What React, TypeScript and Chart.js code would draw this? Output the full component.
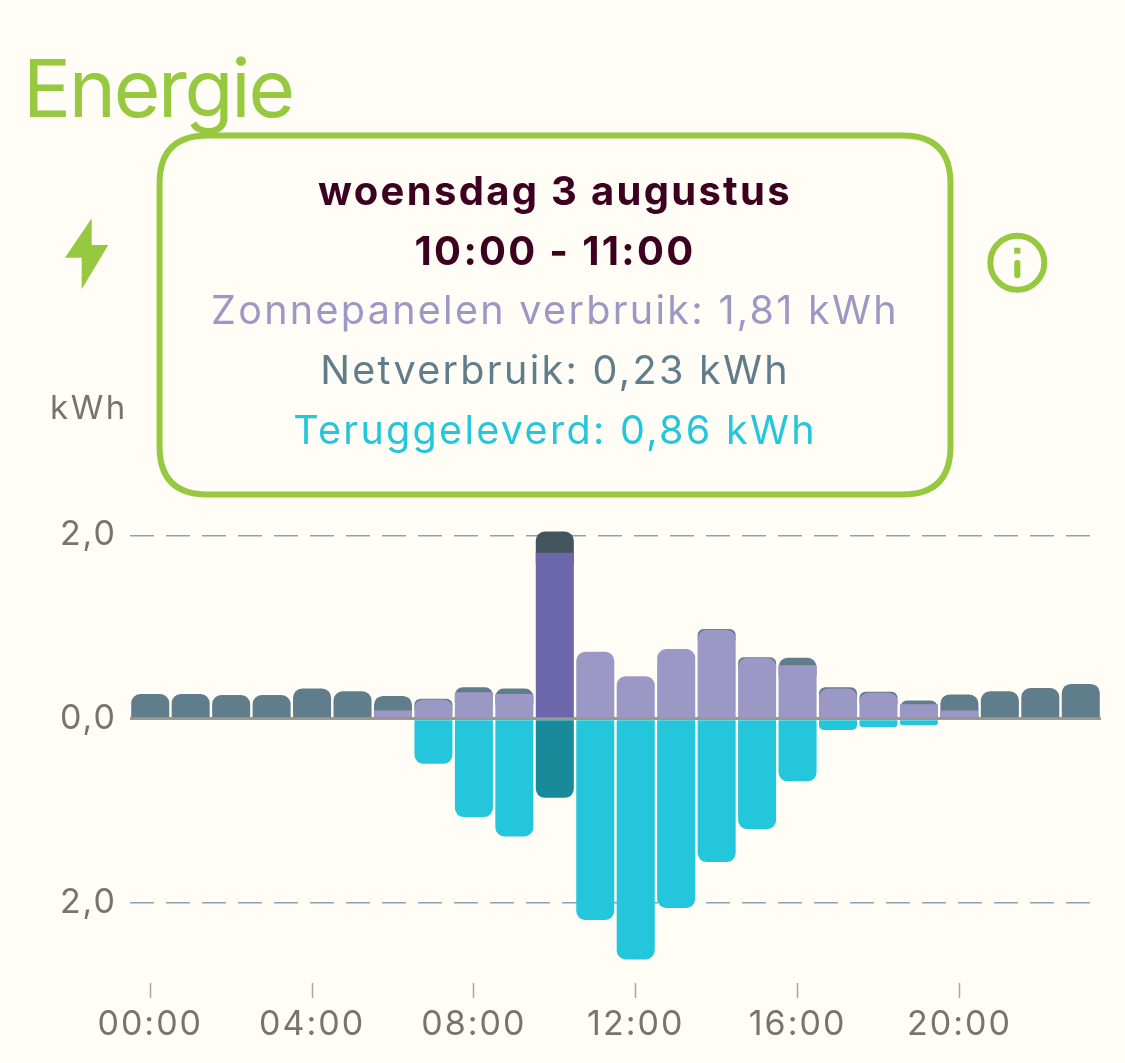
import React, { useEffect, useRef } from "react";
import { Chart, registerables, Tooltip } from "chart.js";

Chart.register(...registerables);

const hours = ["00:00","01:00","02:00","03:00","04:00","05:00","06:00","07:00","08:00","09:00","10:00","11:00","12:00","13:00","14:00","15:00","16:00","17:00","18:00","19:00","20:00","21:00","22:00","23:00"];
const zonnepanelen = [0,0,0,0,0,0,0.09,0.21,0.29,0.27,1.81,0.73,0.465,0.76,0.97,0.665,0.585,0.33,0.285,0.16,0.09,0,0,0];
const netverbruik = [0.27,0.27,0.26,0.26,0.33,0.30,0.16,0.01,0.055,0.06,0.23,0,0,0,0.01,0.005,0.08,0.015,0.01,0.04,0.175,0.30,0.335,0.38];
const teruggeleverd = [0,0,0,0,0,0,0,-0.49,-1.07,-1.28,-0.86,-2.19,-2.62,-2.06,-1.56,-1.20,-0.68,-0.12,-0.09,-0.07,0,0,0,0];
const yTicks = [-2, 0, 2];
const activeHour = 10;
const tooltipTitle = ["woensdag 3 augustus", "10:00 - 11:00"];

const BG = "#FFFDF6";
const GREEN = "#96C93F";
const GREY = "#76746E";
const FONT = "Inter, 'Noto Sans', sans-serif";
const PURPLE = "#9C98C6";
const PURPLE_DARK = "#6C66AB";
const NET = "#607D8B";
const NET_DARK = "#42545C";
const CYAN = "#24C6DC";
const CYAN_DARK = "#188A99";
const MAROON = "#3D0020";

(Tooltip.positioners as any).fixedBox = () => ({ x: 555, y: 135.5, xAlign: "center", yAlign: "top" });

const spacingPlugin = {
  id: "letterSpacing",
  beforeUpdate(chart: any) { chart.ctx.letterSpacing = "2.3px"; },
  beforeDraw(chart: any) { chart.ctx.letterSpacing = "2px"; },
  afterDatasetsDraw(chart: any) { chart.ctx.letterSpacing = "2.3px"; },
};

const pick = (normal: string, dark: string) => hours.map((_, i) => (i === activeHour ? dark : normal));
const R = 9;
// Net consumption sits on the solar part; it starts a little under the solar bar's top so that
// the solar bar's rounded corners show the net colour behind them.
const netBars = netverbruik.map((n, i) =>
  n > 0 ? [Math.max(0, zonnepanelen[i] - 0.12), zonnepanelen[i] + n] : null
);

export default function App() {
  const ref = useRef<HTMLCanvasElement>(null);
  useEffect(() => {
    document.body.style.margin = "0";
    document.body.style.background = BG;
    const chart = new Chart(ref.current!, {
      type: "bar",
      plugins: [spacingPlugin],
      data: {
        labels: hours,
        datasets: [
          {
            label: "Zonnepanelen verbruik",
            data: zonnepanelen,
            order: 1,
            backgroundColor: pick(PURPLE, PURPLE_DARK),
            borderSkipped: false,
            borderRadius: (c: any) => {
              const round = netverbruik[c.dataIndex] < 0.03 ? R : 0;
              return { topLeft: round, topRight: round, bottomLeft: 0, bottomRight: 0 };
            },
          },
          {
            label: "Netverbruik",
            data: netBars,
            order: 2,
            backgroundColor: pick(NET, NET_DARK),
            borderSkipped: false,
            borderRadius: { topLeft: R, topRight: R, bottomLeft: 0, bottomRight: 0 },
          },
          {
            label: "Teruggeleverd",
            data: teruggeleverd,
            order: 3,
            backgroundColor: pick(CYAN, CYAN_DARK),
            borderSkipped: false,
            borderRadius: { topLeft: 0, topRight: 0, bottomLeft: R, bottomRight: R },
          },
        ],
      },
      options: {
        animation: false,
        responsive: false,
        events: [],
        layout: { padding: { top: 516.9, right: 24, left: 0, bottom: 0 } },
        datasets: { bar: { barPercentage: 0.94, categoryPercentage: 1, grouped: false } },
        scales: {
          x: {
            afterBuildTicks: (s: any) => { s.ticks = s.ticks.filter((t: any) => t.value % 4 === 0); },
            afterFit: (s: any) => { s.height = 80; },
            border: { display: false },
            grid: { drawOnChartArea: false, offset: false, tickLength: 15, tickColor: "#A8A7A2", tickWidth: 1.5 },
            ticks: { autoSkip: false, maxRotation: 0, color: GREY, padding: 6, font: { family: FONT, size: 34, weight: 400 } },
          },
          y: {
            min: -2.877,
            max: 2.2,
            afterBuildTicks: (s: any) => { s.ticks = yTicks.map((value) => ({ value })); },
            afterFit: (s: any) => { s.width = 130; },
            border: { display: false, dash: (c: any) => (c.tick && c.tick.value === 0 ? [] : [24, 12]) },
            grid: {
              drawTicks: false,
              color: (c: any) => (c.tick.value === 0 ? "#9A9893" : "#8CA3AE"),
              lineWidth: (c: any) => (c.tick.value === 0 ? 3 : 1.5),
            },
            ticks: {
              color: GREY,
              padding: 13,
              font: { family: FONT, size: 34, weight: 400 },
              callback: (v: any) => Math.abs(Number(v)).toFixed(1).replace(".", ","),
            },
          },
        },
        plugins: {
          legend: { display: false },
          title: { display: false },
          tooltip: {
            enabled: true,
            position: "fixedBox" as any,
            animation: false as any,
            backgroundColor: BG,
            borderColor: GREEN,
            borderWidth: 6,
            cornerRadius: 48,
            caretSize: 0,
            caretPadding: 0,
            displayColors: false,
            titleAlign: "center",
            bodyAlign: "center",
            titleColor: MAROON,
            titleFont: { family: FONT, size: 40, weight: 700 },
            bodyFont: { family: FONT, size: 39.5, weight: 400 },
            titleSpacing: 12,
            titleMarginBottom: 12.3,
            bodySpacing: 12.6,
            padding: { top: 33, bottom: 38.3, left: 51.5, right: 51.5 },
            callbacks: {
              title: () => tooltipTitle,
              label: (c: any) => {
                const v = [zonnepanelen, netverbruik, teruggeleverd][c.datasetIndex][c.dataIndex];
                return `${c.dataset.label}: ${Math.abs(v).toFixed(2).replace(".", ",")} kWh`;
              },
              labelTextColor: (c: any) => [PURPLE, NET, CYAN][c.datasetIndex],
            },
          },
        },
      },
    } as any);
    chart.tooltip!.setActiveElements(
      [0, 1, 2].map((datasetIndex) => ({ datasetIndex, index: activeHour })),
      { x: 555, y: 135 }
    );
    chart.update();
    return () => chart.destroy();
  }, []);

  return (
    <div style={{ position: "relative", width: 1125, height: 1063, background: BG, overflow: "hidden" }}>
      <canvas ref={ref} width={1125} height={1063} style={{ position: "absolute", left: 0, top: 0, display: "block" }} />
      <div style={{ position: "absolute", left: 23, top: 39, fontFamily: FONT, fontSize: 80, lineHeight: "97px", fontWeight: 400, color: GREEN, letterSpacing: "-2.3px" }}>Energie</div>
      <div style={{ position: "absolute", left: 50, top: 387, fontFamily: FONT, fontSize: 33, lineHeight: "40px", fontWeight: 400, color: GREY, letterSpacing: "2.6px" }}>kWh</div>
      <svg style={{ position: "absolute", left: 0, top: 0, pointerEvents: "none" }} width={1125} height={300}>
        <polygon points="91.7,218.3 91.7,245 108.3,245 81.7,289.3 81.7,257.7 65,257.7" fill={GREEN} />
        <circle cx={1017.3} cy={262.7} r={27} fill="none" stroke={GREEN} strokeWidth={6} />
        <rect x={1014.2} y={247.7} width={6.2} height={6} fill={GREEN} />
        <rect x={1014.2} y={260} width={6.2} height={18.3} rx={3} fill={GREEN} />
      </svg>
    </div>
  );
}
